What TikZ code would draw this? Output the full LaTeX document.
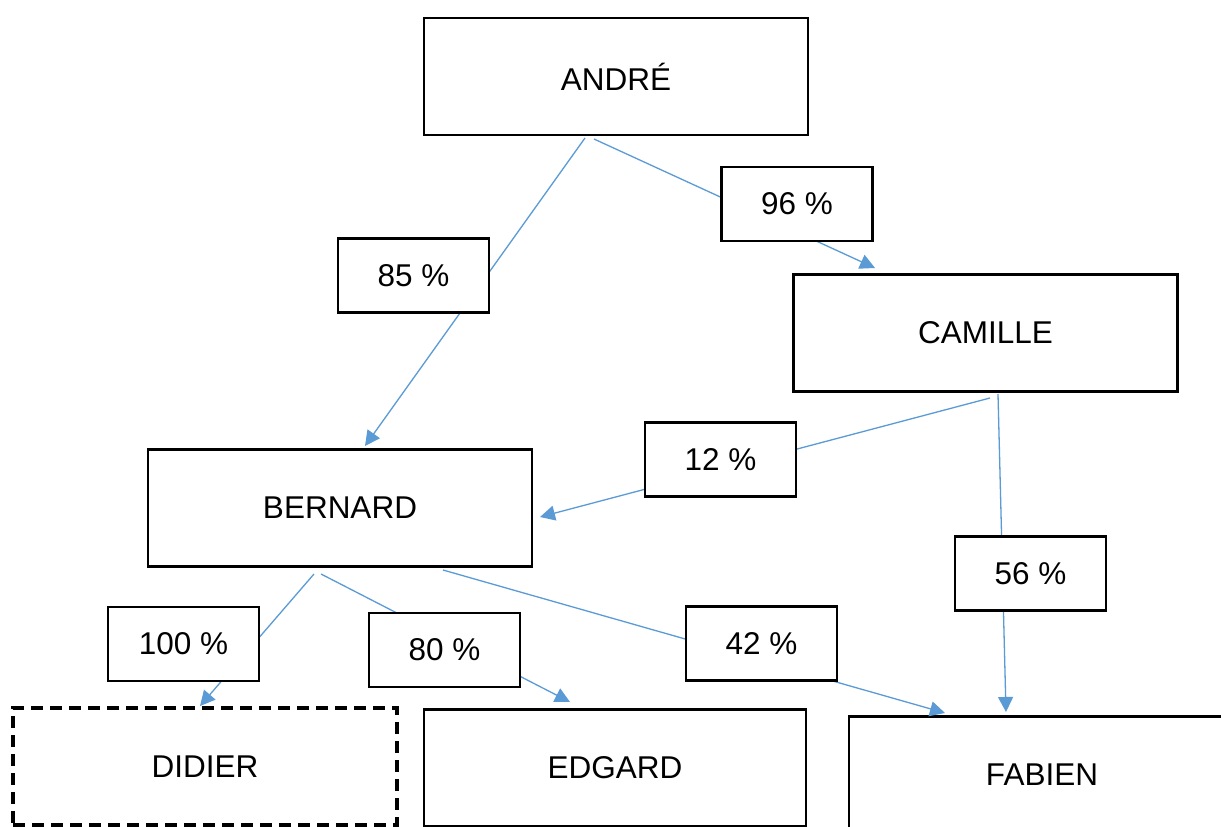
\documentclass[tikz,border=0pt]{standalone}
\usepackage{fontspec}
\setmainfont{Liberation Sans}
\usetikzlibrary{arrows.meta}
\definecolor{lnblue}{RGB}{91,155,213}
\begin{document}
\begin{tikzpicture}[x=1pt,y=-1pt,
  box/.style={draw=black,line width=2.6pt,fill=white,minimum width=384pt,minimum height=117pt,inner sep=0pt,font=\fontsize{31.5}{38}\selectfont},
  dbox/.style={box,line width=3.2pt,dash pattern=on 12pt off 7pt},
  lbl/.style={draw=black,line width=2.4pt,fill=white,minimum width=151pt,minimum height=74pt,inner sep=0pt,font=\fontsize{31.5}{38}\selectfont},
  conn/.style={draw=lnblue,line width=1.3pt,-{Triangle[length=15pt,width=15pt]}}]
\clip (0,0) rectangle (1221,827);
\fill[white] (0,0) rectangle (1221,827);
% main boxes
\node[box] (andre) at (616,76.5) {ANDRÉ};
\node[box] (camille) at (985.5,333) {CAMILLE};
\node[box] (bernard) at (340,508) {BERNARD};
\node[dbox] (didier) at (205,766.5) {DIDIER};
\node[box,minimum width=382pt] (edgard) at (615,768) {EDGARD};
\node[box,minimum width=386pt] (fabien) at (1042,775) {FABIEN};
% connector end points
\coordinate (a1) at (585,138);
\coordinate (a2) at (594,139);
\coordinate (c1) at (990,398);
\coordinate (c2) at (998,394);
\coordinate (b1) at (314,574);
\coordinate (b2) at (321,574);
\coordinate (b3) at (443,570);
\coordinate (tb) at (365,446);
\coordinate (tc) at (875,268);
\coordinate (tb2) at (540,517);
\coordinate (tf1) at (1006,712);
\coordinate (td) at (200,706);
\coordinate (te) at (570,702);
\coordinate (tf2) at (945,713);
% connectors
\draw[conn] (a1) -- (tb);
\draw[conn] (a2) -- (tc);
\draw[conn] (c1) -- (tb2);
\draw[conn] (c2) -- (tf1);
\draw[conn] (b1) -- (td);
\draw[conn] (b2) -- (te);
\draw[conn] (b3) -- (tf2);
% labels
\node[lbl] (l96) at (797,204) {96 \%};
\node[lbl] (l85) at (413.5,275.5) {85 \%};
\node[lbl] (l12) at (720.5,459.5) {12 \%};
\node[lbl] (l56) at (1030.5,573.5) {56 \%};
\node[lbl] (l100) at (183.5,644) {100 \%};
\node[lbl] (l80) at (444.5,650) {80 \%};
\node[lbl] (l42) at (761.5,643.5) {42 \%};
\end{tikzpicture}
\end{document}
